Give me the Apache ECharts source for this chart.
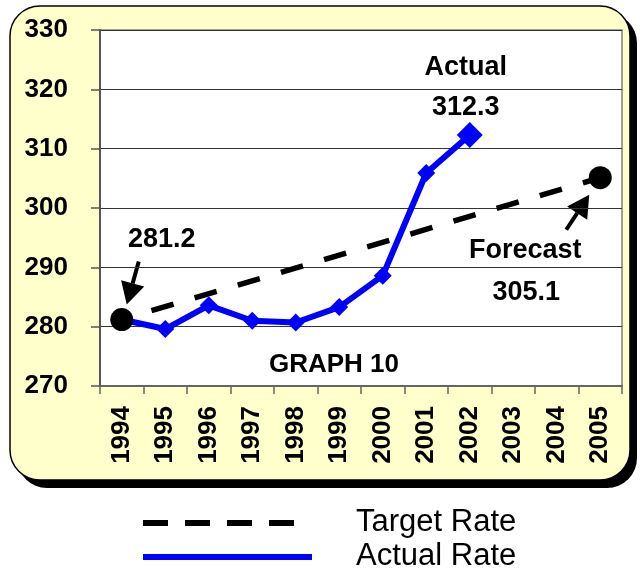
<!DOCTYPE html>
<html>
<head>
<meta charset="utf-8">
<script src="https://cdn.jsdelivr.net/npm/echarts@6/dist/echarts.min.js"></script>
<style>
  html, body { margin: 0; padding: 0; background: #ffffff; }
  #chart { width: 640px; height: 573px; }
</style>
</head>
<body>
<div id="chart"></div>
<script>
// Years on the horizontal axis
const years = ['1994', '1995', '1996', '1997', '1998', '1999', '2000', '2001', '2002', '2003', '2004', '2005'];
// Actual rate, recorded through 2002
const actualRate = [281.2, 279.6, 283.6, 281.0, 280.7, 283.3, 288.6, 305.9, 312.3, null, null, null];
// Target rate: straight run from the 1994 base to the 2005 forecast
const targetRate = [281.2, null, null, null, null, null, null, null, null, null, null, 305.1];
// Value-axis ticks
const yTicks = [270, 280, 290, 300, 310, 320, 330];

const FONT = '"Liberation Sans", Arial, Helvetica, sans-serif';
const chart = echarts.init(document.getElementById('chart'), null, { renderer: 'canvas' });

// Rounded yellow panel with a hard drop shadow behind the plot
const panel = [
  { type: 'rect', z: -20, shape: { x: 17, y: 13, width: 620, height: 475, r: 30 }, style: { fill: '#000000' } },
  { type: 'rect', z: -19, shape: { x: 10, y: 6, width: 620, height: 474, r: 30 }, style: { fill: '#FFFFCC', stroke: '#000000', lineWidth: 1.5 } }
];

// Legend drawn below the panel
const legendMarks = [
  { type: 'line', shape: { x1: 143, y1: 523, x2: 295, y2: 523 }, style: { stroke: '#000000', lineWidth: 6, lineDash: [25, 17] } },
  { type: 'text', style: { x: 356, y: 522, text: 'Target Rate', font: '31px ' + FONT, fill: '#000000', align: 'left', verticalAlign: 'middle' } },
  { type: 'line', shape: { x1: 143, y1: 557, x2: 312, y2: 557 }, style: { stroke: '#0000FF', lineWidth: 6 } },
  { type: 'text', style: { x: 356, y: 556, text: 'Actual Rate', font: '31px ' + FONT, fill: '#000000', align: 'left', verticalAlign: 'middle' } }
];

chart.setOption({
  animation: false,
  backgroundColor: '#ffffff',
  grid: {
    left: 100, right: 18, top: 30, bottom: 187,
    show: true, backgroundColor: '#ffffff', borderColor: '#808080', borderWidth: 1.5
  },
  xAxis: {
    type: 'category',
    data: years,
    boundaryGap: true,
    axisLine: { lineStyle: { color: '#666666', width: 2 } },
    axisTick: { show: true, length: 8, lineStyle: { color: '#666666', width: 1.5 } },
    axisLabel: { rotate: 90, margin: 20, color: '#000000', fontSize: 26, fontWeight: 'bold', fontFamily: FONT, interval: 0 },
    splitLine: { show: false }
  },
  yAxis: {
    type: 'value',
    min: yTicks[0],
    max: yTicks[yTicks.length - 1],
    interval: yTicks[1] - yTicks[0],
    axisLine: { show: true, lineStyle: { color: '#555555', width: 2 } },
    axisTick: { show: true, inside: false, length: 9, lineStyle: { color: '#555555', width: 1.5 } },
    axisLabel: { margin: 32, color: '#000000', fontSize: 26, fontWeight: 'bold', fontFamily: FONT },
    splitLine: { show: true, lineStyle: { color: '#333333', width: 1 } }
  },
  series: [
    {
      name: 'Actual Rate',
      type: 'line',
      data: actualRate.map(function (v, i) {
        if (v === null) return null;
        return i === 8 ? { value: v, symbolSize: 26 } : v;
      }),
      symbol: 'diamond',
      symbolSize: 18,
      showAllSymbol: true,
      lineStyle: { color: '#0000FF', width: 6 },
      itemStyle: { color: '#0000FF' },
      z: 2
    },
    {
      name: 'Target Rate',
      type: 'line',
      data: targetRate,
      connectNulls: true,
      symbol: 'circle',
      symbolSize: 23,
      showAllSymbol: true,
      lineStyle: { color: '#000000', width: 5.5, type: [23, 22], dashOffset: 14 },
      itemStyle: { color: '#000000' },
      z: 3
    }
  ],
  graphic: panel.concat(legendMarks)
});

// Arrow from tail to tip with a filled triangular head
function arrow(tail, tip, headLen, headWidth) {
  const dx = tip[0] - tail[0], dy = tip[1] - tail[1];
  const len = Math.sqrt(dx * dx + dy * dy);
  const ux = dx / len, uy = dy / len;
  const nx = -uy, ny = ux;
  const bx = tip[0] - ux * headLen, by = tip[1] - uy * headLen;
  return {
    type: 'group', z: 50,
    children: [
      { type: 'line', shape: { x1: tail[0], y1: tail[1], x2: bx, y2: by }, style: { stroke: '#000000', lineWidth: 4 } },
      { type: 'polygon', shape: { points: [tip, [bx + nx * headWidth / 2, by + ny * headWidth / 2], [bx - nx * headWidth / 2, by - ny * headWidth / 2]] }, style: { fill: '#000000' } }
    ]
  };
}

function label(x, y, text, size) {
  return { type: 'text', z: 50, style: { x: x, y: y, text: text, font: 'bold ' + size + 'px ' + FONT, fill: '#000000', align: 'center', verticalAlign: 'middle' } };
}

const startIdx = 0;
const lastActualIdx = 8;
const forecastIdx = 11;
const pStart = chart.convertToPixel({ gridIndex: 0 }, [startIdx, targetRate[startIdx]]);
const pActual = chart.convertToPixel({ gridIndex: 0 }, [lastActualIdx, actualRate[lastActualIdx]]);
const pForecast = chart.convertToPixel({ gridIndex: 0 }, [forecastIdx, targetRate[forecastIdx]]);
const gridRect = chart.getModel().getComponent('grid', 0).coordinateSystem.getRect();

const notes = [
  label(pStart[0] + 40, pStart[1] - 80, targetRate[startIdx].toFixed(1), 27),
  arrow([pStart[0] + 17, pStart[1] - 58], [pStart[0] + 5, pStart[1] - 15], 22, 24),
  label(pActual[0] - 4, pActual[1] - 67, 'Actual', 27),
  label(pActual[0] - 4, pActual[1] - 27, actualRate[lastActualIdx].toFixed(1), 27),
  label(pForecast[0] - 75, pForecast[1] + 73, 'Forecast', 27),
  label(pForecast[0] - 74, pForecast[1] + 115, targetRate[forecastIdx].toFixed(1), 27),
  arrow([pForecast[0] - 34, pForecast[1] + 52], [pForecast[0] - 11, pForecast[1] + 17], 22, 24),
  label(gridRect.x + 234, gridRect.y + gridRect.height - 21, 'GRAPH 10', 26)
];

chart.setOption({ graphic: panel.concat(legendMarks, notes) });
</script>
</body>
</html>
